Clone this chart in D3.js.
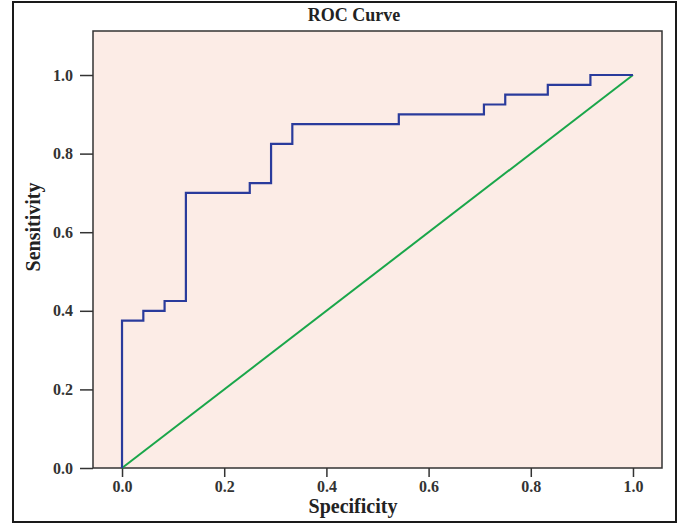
<!DOCTYPE html>
<html><head><meta charset="utf-8">
<script src="https://cdn.jsdelivr.net/npm/d3@7"></script>
<style>body{margin:0;background:#fff}</style>
</head><body>
<svg id="c" width="680" height="524"></svg>
<script>
const title = "ROC Curve";
const xLabel = "Specificity";
const yLabel = "Sensitivity";
const tickValues = [0.0, 0.2, 0.4, 0.6, 0.8, 1.0];
// ROC step vertices (x = 1 - specificity, y = sensitivity)
const fpr = [0, 0, 0.0417, 0.0417, 0.0833, 0.0833, 0.125, 0.125, 0.25, 0.25, 0.2917, 0.2917, 0.3333, 0.3333, 0.5417, 0.5417, 0.7083, 0.7083, 0.75, 0.75, 0.8333, 0.8333, 0.9167, 0.9167, 1.0];
const tpr = [0, 0.375, 0.375, 0.4, 0.4, 0.425, 0.425, 0.7, 0.7, 0.725, 0.725, 0.825, 0.825, 0.875, 0.875, 0.9, 0.9, 0.925, 0.925, 0.95, 0.95, 0.975, 0.975, 1.0, 1.0];
const refX = [0, 1];
const refY = [0, 1];

const svg = d3.select("#c");
const font = "'Liberation Serif','Times New Roman',serif";
const L = 93, R = 662, T = 31, B = 468;
const x = d3.scaleLinear().domain([-0.0568, 1.0568]).range([L, R]);
const y = d3.scaleLinear().domain([0, 1.112]).range([B, T]);

// outer frame
svg.append("rect").attr("x", 13).attr("y", 2).attr("width", 663).attr("height", 520)
  .attr("fill", "#fff").attr("stroke", "#1a1a1a").attr("stroke-width", 2);

// plot background
svg.append("rect").attr("x", L).attr("y", T).attr("width", R - L).attr("height", B - T)
  .attr("fill", "#fcece6").attr("stroke", "#333").attr("stroke-width", 1.5);

// axes
const xa = svg.append("g").attr("transform", `translate(0,${B})`)
  .call(d3.axisBottom(x).tickValues(tickValues).tickFormat(d3.format(".1f")).tickSize(9).tickPadding(4));
const ya = svg.append("g").attr("transform", `translate(${L},0)`)
  .call(d3.axisLeft(y).tickValues(tickValues).tickFormat(d3.format(".1f")).tickSize(13).tickPadding(7));
[xa, ya].forEach(g => {
  g.select(".domain").remove();
  g.selectAll("line").attr("stroke", "#333").attr("stroke-width", 1.5);
  g.selectAll("text").attr("font-family", font).attr("font-weight", "bold")
    .attr("font-size", 16).attr("fill", "#333");
});

// reference line
const line = d3.line().x(d => x(d[0])).y(d => y(d[1]));
svg.append("path").datum(refX.map((v, i) => [v, refY[i]])).attr("d", line)
  .attr("fill", "none").attr("stroke", "#1aa64a").attr("stroke-width", 2);
// ROC curve
svg.append("path").datum(fpr.map((v, i) => [v, tpr[i]])).attr("d", line)
  .attr("fill", "none").attr("stroke", "#2a3b9c").attr("stroke-width", 2.2);

// titles
svg.append("text").attr("x", 354).attr("y", 21).attr("text-anchor", "middle")
  .attr("font-family", font).attr("font-weight", "bold").attr("font-size", 18).attr("fill", "#222").text(title);
svg.append("text").attr("x", 353).attr("y", 513).attr("text-anchor", "middle")
  .attr("font-family", font).attr("font-weight", "bold").attr("font-size", 20).attr("fill", "#222").text(xLabel);
svg.append("text").attr("transform", "translate(40,227) rotate(-90)").attr("text-anchor", "middle")
  .attr("font-family", font).attr("font-weight", "bold").attr("font-size", 20).attr("fill", "#222").text(yLabel);
</script>
</body></html>
